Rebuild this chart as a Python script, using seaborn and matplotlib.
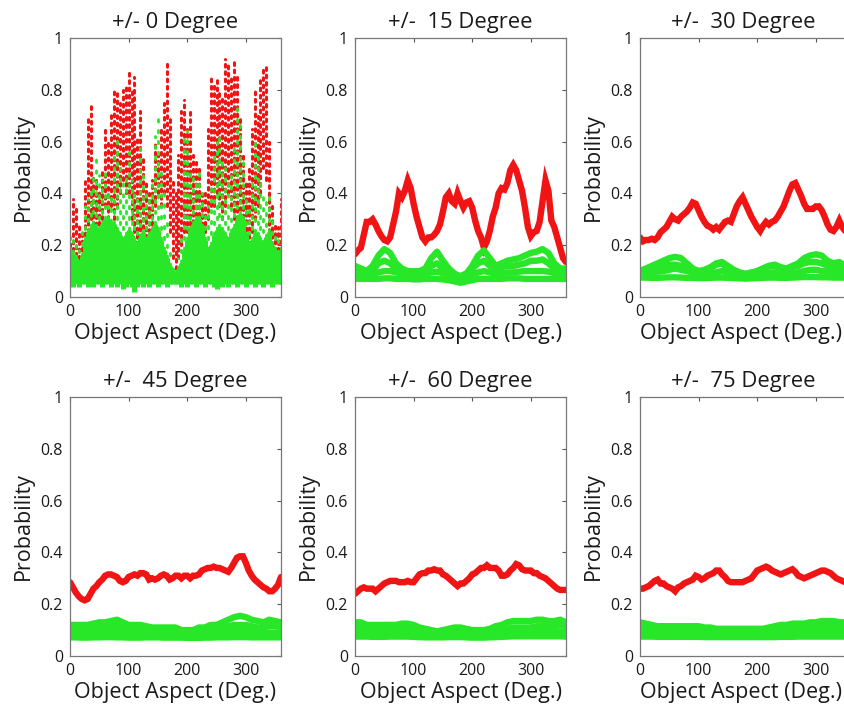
import numpy as np
import matplotlib
matplotlib.use("Agg")
import matplotlib.pyplot as plt
import seaborn as sns

sns.set_style("white")
plt.rcParams['font.family'] = ['Open Sans', 'DejaVu Sans']

RED = '#f01414'
GREEN = '#28e628'

# sampling grids (object aspect, degrees)
ASPECT5 = np.arange(0, 361, 5)
ASPECT10 = np.arange(0, 361, 10)

TITLES = ["+/- 0 Degree", "+/-  15 Degree", "+/-  30 Degree",
          "+/-  45 Degree", "+/-  60 Degree", "+/-  75 Degree"]
XTICKS = [0, 100, 200, 300]
YTICKS = [0, 0.2, 0.4, 0.6, 0.8, 1]
YTICKLABELS = ["0", "0.2", "0.4", "0.6", "0.8", "1"]

# ---- +/- 0 degree: per-aspect spread of scattered probabilities ----
red0_lo = [0.14, 0.15, 0.13, 0.12, 0.15, 0.18, 0.25, 0.30, 0.25, 0.22, 0.25, 0.30, 0.35, 0.30, 0.35,
           0.30, 0.35, 0.40, 0.45, 0.40, 0.40, 0.30, 0.25, 0.20, 0.20, 0.18, 0.20, 0.25, 0.25, 0.35,
           0.40, 0.35, 0.40, 0.35, 0.25, 0.15, 0.11, 0.15, 0.20, 0.25, 0.25, 0.25, 0.20, 0.20, 0.20,
           0.22, 0.25, 0.30, 0.35, 0.35, 0.40, 0.35, 0.30, 0.35, 0.40, 0.35, 0.30, 0.30, 0.25, 0.25,
           0.20, 0.20, 0.25, 0.30, 0.35, 0.40, 0.50, 0.45, 0.25, 0.20, 0.15, 0.15, 0.15]
red0_hi = [0.22, 0.38, 0.35, 0.28, 0.25, 0.45, 0.70, 0.75, 0.47, 0.45, 0.42, 0.50, 0.65, 0.60, 0.72,
           0.80, 0.79, 0.75, 0.80, 0.82, 0.87, 0.80, 0.85, 0.62, 0.72, 0.55, 0.45, 0.40, 0.45, 0.60,
           0.55, 0.65, 0.75, 0.91, 0.70, 0.45, 0.40, 0.55, 0.72, 0.76, 0.65, 0.72, 0.55, 0.52, 0.50,
           0.40, 0.40, 0.65, 0.85, 0.82, 0.84, 0.80, 0.78, 0.92, 0.90, 0.85, 0.92, 0.85, 0.70, 0.55,
           0.45, 0.50, 0.65, 0.80, 0.70, 0.85, 0.89, 0.89, 0.60, 0.35, 0.28, 0.27, 0.38]
green0_lo = [0.05, 0.04, 0.05, 0.04, 0.05, 0.05, 0.04, 0.05, 0.04, 0.05, 0.05, 0.04, 0.05, 0.05, 0.04,
             0.05, 0.04, 0.05, 0.03, 0.04, 0.05, 0.04, 0.02, 0.04, 0.05, 0.04, 0.05, 0.04, 0.05, 0.05,
             0.04, 0.05, 0.05, 0.04, 0.05, 0.05, 0.05, 0.05, 0.04, 0.05, 0.04, 0.05, 0.05, 0.04, 0.05,
             0.05, 0.04, 0.05, 0.05, 0.04, 0.03, 0.05, 0.04, 0.05, 0.04, 0.05, 0.05, 0.04, 0.05, 0.05,
             0.04, 0.05, 0.05, 0.04, 0.05, 0.05, 0.04, 0.05, 0.05, 0.04, 0.05, 0.05, 0.05]
green0_mid = [0.18, 0.17, 0.15, 0.13, 0.16, 0.22, 0.25, 0.27, 0.28, 0.27, 0.26, 0.28, 0.30, 0.30, 0.29,
              0.28, 0.26, 0.24, 0.22, 0.24, 0.26, 0.24, 0.22, 0.20, 0.23, 0.25, 0.22, 0.24, 0.26, 0.28,
              0.26, 0.22, 0.18, 0.15, 0.12, 0.10, 0.09, 0.11, 0.13, 0.18, 0.22, 0.26, 0.28, 0.30, 0.30,
              0.27, 0.22, 0.18, 0.20, 0.24, 0.26, 0.27, 0.26, 0.24, 0.22, 0.25, 0.27, 0.30, 0.32, 0.30,
              0.24, 0.20, 0.22, 0.25, 0.24, 0.22, 0.21, 0.23, 0.25, 0.20, 0.18, 0.17, 0.18]
green0_hi = [0.25, 0.22, 0.20, 0.18, 0.25, 0.35, 0.38, 0.42, 0.48, 0.55, 0.47, 0.45, 0.48, 0.42, 0.40,
             0.55, 0.62, 0.50, 0.45, 0.48, 0.58, 0.45, 0.42, 0.40, 0.60, 0.48, 0.40, 0.38, 0.45, 0.62,
             0.72, 0.50, 0.42, 0.30, 0.20, 0.13, 0.11, 0.15, 0.25, 0.62, 0.64, 0.50, 0.48, 0.45, 0.48,
             0.40, 0.32, 0.35, 0.42, 0.55, 0.60, 0.62, 0.55, 0.50, 0.45, 0.50, 0.60, 0.74, 0.68, 0.55,
             0.40, 0.35, 0.45, 0.60, 0.55, 0.45, 0.40, 0.38, 0.40, 0.30, 0.25, 0.22, 0.22]

# ---- smoothed panels: correct-class probability (red), every 5 deg ----
red15 = [0.165, 0.18, 0.19, 0.24, 0.29, 0.29, 0.30, 0.28, 0.255, 0.235, 0.22, 0.215, 0.23, 0.28, 0.33,
         0.40, 0.385, 0.41, 0.45, 0.42, 0.36, 0.31, 0.27, 0.23, 0.215, 0.23, 0.23, 0.24, 0.255, 0.28,
         0.33, 0.385, 0.40, 0.37, 0.36, 0.40, 0.37, 0.345, 0.365, 0.37, 0.345, 0.295, 0.255, 0.23, 0.19,
         0.215, 0.255, 0.31, 0.345, 0.40, 0.42, 0.415, 0.44, 0.49, 0.51, 0.49, 0.45, 0.41, 0.345, 0.27,
         0.235, 0.25, 0.255, 0.29, 0.37, 0.45, 0.41, 0.295, 0.27, 0.23, 0.19, 0.15, 0.135]
red30 = [0.23, 0.215, 0.22, 0.22, 0.225, 0.22, 0.23, 0.25, 0.26, 0.27, 0.29, 0.31, 0.30, 0.295, 0.31,
         0.32, 0.33, 0.345, 0.365, 0.36, 0.335, 0.31, 0.29, 0.275, 0.27, 0.26, 0.27, 0.26, 0.275, 0.29,
         0.295, 0.29, 0.32, 0.35, 0.37, 0.385, 0.36, 0.335, 0.31, 0.29, 0.27, 0.255, 0.275, 0.29, 0.28,
         0.29, 0.295, 0.31, 0.33, 0.35, 0.38, 0.41, 0.435, 0.44, 0.415, 0.39, 0.36, 0.34, 0.34, 0.34,
         0.35, 0.35, 0.335, 0.31, 0.28, 0.26, 0.255, 0.27, 0.295, 0.27, 0.255, 0.255, 0.255]
red45 = [0.285, 0.265, 0.245, 0.23, 0.22, 0.215, 0.22, 0.24, 0.26, 0.27, 0.285, 0.295, 0.31, 0.315, 0.315,
         0.31, 0.305, 0.29, 0.285, 0.29, 0.305, 0.31, 0.315, 0.31, 0.32, 0.32, 0.315, 0.295, 0.30, 0.295,
         0.30, 0.31, 0.315, 0.31, 0.295, 0.30, 0.31, 0.31, 0.30, 0.31, 0.31, 0.30, 0.31, 0.31, 0.315,
         0.33, 0.335, 0.34, 0.34, 0.345, 0.34, 0.34, 0.335, 0.33, 0.325, 0.34, 0.36, 0.38, 0.385, 0.385,
         0.36, 0.33, 0.31, 0.295, 0.285, 0.275, 0.265, 0.26, 0.25, 0.25, 0.26, 0.275, 0.305]
red60 = [0.24, 0.25, 0.26, 0.265, 0.26, 0.26, 0.26, 0.25, 0.26, 0.27, 0.28, 0.285, 0.29, 0.29, 0.29,
         0.285, 0.285, 0.285, 0.29, 0.285, 0.285, 0.30, 0.315, 0.32, 0.32, 0.33, 0.33, 0.335, 0.33, 0.33,
         0.315, 0.31, 0.30, 0.29, 0.28, 0.27, 0.28, 0.28, 0.29, 0.30, 0.315, 0.32, 0.33, 0.34, 0.34,
         0.35, 0.34, 0.34, 0.34, 0.33, 0.31, 0.31, 0.315, 0.33, 0.34, 0.355, 0.35, 0.335, 0.33, 0.33,
         0.33, 0.32, 0.32, 0.31, 0.305, 0.30, 0.29, 0.28, 0.27, 0.26, 0.255, 0.255, 0.255]
red75 = [0.26, 0.26, 0.265, 0.27, 0.28, 0.29, 0.295, 0.28, 0.28, 0.27, 0.265, 0.26, 0.25, 0.265, 0.27,
         0.28, 0.285, 0.29, 0.295, 0.31, 0.305, 0.295, 0.30, 0.31, 0.315, 0.32, 0.33, 0.33, 0.315, 0.305,
         0.29, 0.285, 0.285, 0.285, 0.285, 0.285, 0.29, 0.295, 0.30, 0.315, 0.33, 0.335, 0.34, 0.345, 0.34,
         0.33, 0.325, 0.32, 0.315, 0.32, 0.325, 0.33, 0.335, 0.325, 0.31, 0.305, 0.30, 0.305, 0.31, 0.315,
         0.32, 0.325, 0.33, 0.33, 0.325, 0.32, 0.31, 0.30, 0.295, 0.29, 0.285, 0.28, 0.275]

# ---- other classes (green), every 10 deg ----
g15 = [
    [0.07, 0.07, 0.07, 0.07, 0.07, 0.072, 0.072, 0.07, 0.07, 0.07, 0.068, 0.068, 0.07, 0.07, 0.07, 0.068, 0.065,
     0.06, 0.055, 0.06, 0.065, 0.07, 0.07, 0.07, 0.07, 0.07, 0.072, 0.072, 0.072, 0.07, 0.07, 0.07, 0.07, 0.07,
     0.07, 0.07, 0.07],
    [0.09, 0.09, 0.088, 0.088, 0.095, 0.10, 0.10, 0.095, 0.09, 0.09, 0.088, 0.088, 0.09, 0.095, 0.098, 0.092,
     0.085, 0.08, 0.075, 0.08, 0.088, 0.095, 0.10, 0.095, 0.09, 0.092, 0.095, 0.095, 0.098, 0.10, 0.10, 0.10,
     0.10, 0.098, 0.092, 0.09, 0.09],
    [0.10, 0.10, 0.09, 0.10, 0.13, 0.14, 0.13, 0.11, 0.10, 0.09, 0.09, 0.09, 0.10, 0.12, 0.13, 0.11, 0.10,
     0.085, 0.08, 0.09, 0.11, 0.13, 0.14, 0.12, 0.11, 0.115, 0.12, 0.12, 0.125, 0.13, 0.14, 0.14, 0.145,
     0.13, 0.11, 0.10, 0.10],
    [0.12, 0.11, 0.10, 0.12, 0.16, 0.185, 0.17, 0.13, 0.11, 0.10, 0.10, 0.10, 0.11, 0.15, 0.175, 0.14, 0.11,
     0.09, 0.08, 0.09, 0.12, 0.16, 0.18, 0.15, 0.12, 0.13, 0.14, 0.145, 0.15, 0.16, 0.17, 0.175, 0.185,
     0.17, 0.13, 0.11, 0.11],
]
g30 = [
    [0.075, 0.075, 0.074, 0.074, 0.075, 0.076, 0.076, 0.075, 0.074, 0.074, 0.073, 0.073, 0.074, 0.075, 0.075,
     0.074, 0.073, 0.072, 0.071, 0.072, 0.073, 0.074, 0.075, 0.075, 0.074, 0.074, 0.075, 0.076, 0.077, 0.077,
     0.077, 0.076, 0.076, 0.075, 0.075, 0.075, 0.075],
    [0.09, 0.092, 0.095, 0.098, 0.10, 0.105, 0.11, 0.105, 0.10, 0.095, 0.09, 0.088, 0.09, 0.095, 0.10, 0.095,
     0.09, 0.085, 0.082, 0.085, 0.09, 0.092, 0.095, 0.095, 0.092, 0.09, 0.092, 0.095, 0.10, 0.105, 0.105, 0.10,
     0.098, 0.095, 0.095, 0.092, 0.09],
    [0.10, 0.105, 0.11, 0.115, 0.12, 0.125, 0.125, 0.12, 0.11, 0.105, 0.10, 0.105, 0.115, 0.13, 0.135, 0.12,
     0.105, 0.095, 0.09, 0.095, 0.10, 0.11, 0.12, 0.125, 0.115, 0.11, 0.115, 0.12, 0.13, 0.135, 0.135, 0.13,
     0.12, 0.115, 0.115, 0.11, 0.105],
    [0.10, 0.11, 0.12, 0.13, 0.14, 0.15, 0.155, 0.15, 0.13, 0.11, 0.10, 0.10, 0.11, 0.125, 0.13, 0.11, 0.10,
     0.09, 0.085, 0.09, 0.10, 0.11, 0.12, 0.12, 0.11, 0.11, 0.12, 0.13, 0.15, 0.16, 0.165, 0.16, 0.14, 0.13,
     0.135, 0.12, 0.11],
]
g45 = [
    [0.072, 0.072, 0.071, 0.071, 0.072, 0.072, 0.073, 0.073, 0.072, 0.072, 0.071, 0.071, 0.071, 0.072, 0.072,
     0.072, 0.071, 0.071, 0.071, 0.071, 0.07, 0.07, 0.07, 0.071, 0.071, 0.072, 0.072, 0.072, 0.073, 0.073,
     0.073, 0.072, 0.072, 0.072, 0.072, 0.072, 0.072],
    [0.085, 0.085, 0.086, 0.088, 0.09, 0.092, 0.093, 0.094, 0.094, 0.092, 0.09, 0.088, 0.087, 0.086, 0.086,
     0.086, 0.087, 0.087, 0.087, 0.086, 0.085, 0.085, 0.086, 0.087, 0.088, 0.09, 0.092, 0.094, 0.096, 0.097,
     0.096, 0.094, 0.092, 0.09, 0.09, 0.09, 0.088],
    [0.10, 0.10, 0.10, 0.10, 0.105, 0.11, 0.11, 0.115, 0.115, 0.11, 0.105, 0.105, 0.10, 0.10, 0.10, 0.10, 0.098,
     0.098, 0.098, 0.095, 0.095, 0.095, 0.098, 0.10, 0.10, 0.105, 0.11, 0.115, 0.12, 0.12, 0.12, 0.115, 0.11,
     0.11, 0.115, 0.115, 0.11],
    [0.12, 0.12, 0.12, 0.12, 0.125, 0.13, 0.13, 0.135, 0.14, 0.13, 0.12, 0.12, 0.12, 0.115, 0.11, 0.11, 0.11,
     0.11, 0.11, 0.10, 0.10, 0.10, 0.11, 0.11, 0.12, 0.12, 0.13, 0.14, 0.15, 0.155, 0.15, 0.14, 0.135, 0.13,
     0.14, 0.135, 0.13],
]
g60 = [
    [0.075, 0.075, 0.075, 0.074, 0.074, 0.074, 0.075, 0.075, 0.075, 0.075, 0.074, 0.073, 0.072, 0.072, 0.072,
     0.072, 0.073, 0.073, 0.073, 0.072, 0.071, 0.071, 0.071, 0.072, 0.073, 0.074, 0.075, 0.076, 0.076, 0.076,
     0.076, 0.076, 0.076, 0.076, 0.076, 0.076, 0.075],
    [0.09, 0.09, 0.09, 0.088, 0.088, 0.088, 0.09, 0.09, 0.09, 0.09, 0.088, 0.086, 0.085, 0.084, 0.084, 0.085,
     0.086, 0.087, 0.087, 0.086, 0.085, 0.084, 0.084, 0.085, 0.087, 0.09, 0.092, 0.094, 0.094, 0.094, 0.094,
     0.094, 0.094, 0.094, 0.094, 0.095, 0.094],
    [0.11, 0.11, 0.105, 0.105, 0.10, 0.10, 0.105, 0.11, 0.11, 0.11, 0.105, 0.10, 0.095, 0.09, 0.088, 0.09,
     0.095, 0.10, 0.10, 0.098, 0.095, 0.092, 0.09, 0.092, 0.095, 0.10, 0.105, 0.11, 0.11, 0.11, 0.11, 0.115,
     0.115, 0.115, 0.115, 0.12, 0.115],
    [0.13, 0.13, 0.12, 0.12, 0.12, 0.12, 0.12, 0.12, 0.125, 0.125, 0.12, 0.11, 0.105, 0.10, 0.095, 0.10, 0.105,
     0.11, 0.11, 0.105, 0.10, 0.10, 0.10, 0.105, 0.115, 0.12, 0.13, 0.135, 0.135, 0.135, 0.135, 0.14, 0.14,
     0.135, 0.135, 0.14, 0.13],
]
g75 = [
    [0.075, 0.075, 0.075, 0.074, 0.074, 0.074, 0.074, 0.074, 0.074, 0.074, 0.074, 0.073, 0.073, 0.073, 0.073,
     0.073, 0.073, 0.073, 0.073, 0.073, 0.073, 0.073, 0.073, 0.073, 0.074, 0.074, 0.074, 0.075, 0.075, 0.075,
     0.075, 0.075, 0.075, 0.075, 0.075, 0.075, 0.075],
    [0.09, 0.09, 0.09, 0.088, 0.088, 0.088, 0.088, 0.088, 0.088, 0.088, 0.088, 0.087, 0.087, 0.086, 0.086,
     0.086, 0.086, 0.086, 0.086, 0.086, 0.086, 0.086, 0.087, 0.088, 0.088, 0.089, 0.09, 0.09, 0.091, 0.091,
     0.091, 0.092, 0.092, 0.092, 0.091, 0.09, 0.09],
    [0.11, 0.11, 0.105, 0.105, 0.10, 0.10, 0.10, 0.10, 0.10, 0.10, 0.10, 0.10, 0.10, 0.098, 0.095, 0.095, 0.095,
     0.095, 0.095, 0.095, 0.095, 0.095, 0.098, 0.10, 0.10, 0.105, 0.105, 0.11, 0.11, 0.11, 0.11, 0.115, 0.115,
     0.115, 0.11, 0.11, 0.11],
    [0.13, 0.125, 0.12, 0.115, 0.115, 0.115, 0.115, 0.115, 0.115, 0.115, 0.115, 0.11, 0.11, 0.105, 0.105,
     0.105, 0.105, 0.105, 0.105, 0.105, 0.105, 0.105, 0.11, 0.115, 0.12, 0.12, 0.125, 0.125, 0.125, 0.13,
     0.13, 0.135, 0.135, 0.135, 0.13, 0.13, 0.13],
]

SMOOTH = [(red15, g15), (red30, g30), (red45, g45), (red60, g60), (red75, g75)]

W, H = 845, 711
fig = plt.figure(figsize=(W / 100, H / 100), dpi=100)

lefts = [70, 355, 640]
tops = [38, 397]
axw, axh = 211, 259


def make_ax(i):
    r, c = divmod(i, 3)
    l = lefts[c]
    t = tops[r]
    return fig.add_axes([l / W, 1 - (t + axh) / H, axw / W, axh / H]), c


def style(ax, title, col):
    ax.set_xlim(0, 360)
    ax.set_ylim(0, 1)
    ax.set_xticks(XTICKS)
    ax.set_xticklabels([str(v) for v in XTICKS])
    ax.set_yticks(YTICKS)
    ax.set_yticklabels(YTICKLABELS)
    ax.tick_params(direction='in', length=3, width=0.8, color='#555555',
                   top=True, right=True, labelsize=11.5, labelcolor='#1a1a1a', pad=5)
    for s in ax.spines.values():
        s.set_visible(True)
        s.set_color('#777777')
        s.set_linewidth(0.9)
    ax.set_title(title, fontsize=15.8, color='#1a1a1a', pad=7)
    ax.set_xlabel("Object Aspect (Deg.)", fontsize=15.5, color='#1a1a1a', labelpad=2)
    ax.set_ylabel("Probability", fontsize=15.5, color='#1a1a1a', labelpad=5)
    if col == 2:
        ax.xaxis.label.set_x(0.48)
        ax.title.set_x(0.49)


# panel 1: scattered
ax, c = make_ax(0)
ax.vlines(ASPECT5, red0_lo, red0_hi, colors=RED, linewidth=2.2,
          linestyles=(0, (0.9, 1.5)), capstyle='round')
ax.vlines(ASPECT5, green0_mid, green0_hi, colors=GREEN, linewidth=2.0,
          linestyles=(0, (0.9, 3.0)), capstyle='round')
ax.vlines(ASPECT5, green0_lo, green0_mid, colors=GREEN, linewidth=3.6)
style(ax, TITLES[0], c)

for i, (red, greens) in enumerate(SMOOTH, start=1):
    ax, c = make_ax(i)
    sns.lineplot(x=ASPECT5, y=red, ax=ax, color=RED, linewidth=4.6, solid_joinstyle='miter')
    for g in greens:
        sns.lineplot(x=ASPECT10, y=g, ax=ax, color=GREEN, linewidth=4.6)
    style(ax, TITLES[i], c)

fig.savefig("out.png", dpi=100)
